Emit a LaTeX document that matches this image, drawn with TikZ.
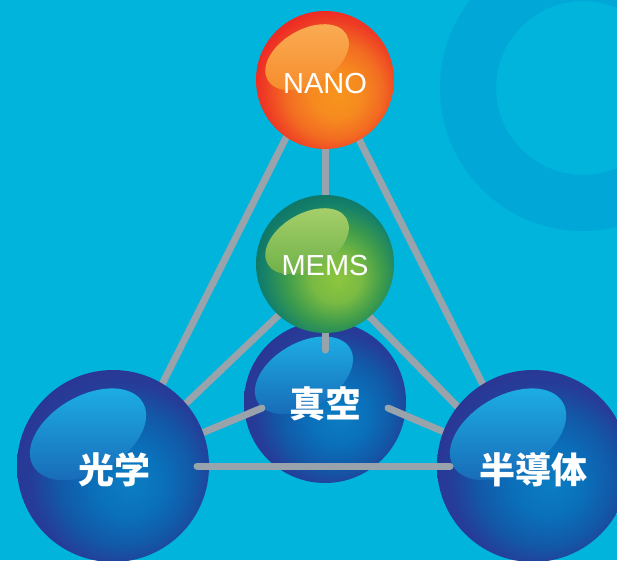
\documentclass[tikz,border=0pt]{standalone}
\usepackage{fontspec}
\setmainfont{Liberation Sans}
\newfontfamily\cjk{Noto Sans CJK JP}
\usetikzlibrary{calc}

\definecolor{bgc}{HTML}{00B4DC}
\definecolor{ringc}{HTML}{00A7D7}
\definecolor{linec}{HTML}{98A3AB}

\definecolor{nanoA}{HTML}{F7941D}
\definecolor{nanoB}{HTML}{F68A1F}
\definecolor{nanoC}{HTML}{F26B22}
\definecolor{nanoD}{HTML}{EE3A24}
\definecolor{nanoE}{HTML}{ED1C24}
\definecolor{nanoHT}{HTML}{FAAD55}
\definecolor{nanoHB}{HTML}{F68B2A}

\definecolor{memsA}{HTML}{8DC63F}
\definecolor{memsB}{HTML}{79BA43}
\definecolor{memsC}{HTML}{3E9C4B}
\definecolor{memsD}{HTML}{14806A}
\definecolor{memsE}{HTML}{0B6F62}
\definecolor{memsHT}{HTML}{A8D06C}
\definecolor{memsHB}{HTML}{6CB046}

\definecolor{bluA}{HTML}{0B7DC3}
\definecolor{bluB}{HTML}{0A70BA}
\definecolor{bluC}{HTML}{1259A8}
\definecolor{bluD}{HTML}{253D98}
\definecolor{bluE}{HTML}{2E3192}
\definecolor{bluHT}{HTML}{1DB0E6}
\definecolor{bluHB}{HTML}{1868B6}

\pgfdeclareradialshading{nanoshade}{\pgfpoint{5bp}{-6bp}}{color(0bp)=(nanoA); color(9bp)=(nanoB); color(17.5bp)=(nanoC); color(25bp)=(nanoD); color(31bp)=(nanoE); color(50bp)=(nanoE)}
\pgfdeclareradialshading{memsshade}{\pgfpoint{5bp}{-6bp}}{color(0bp)=(memsA); color(9bp)=(memsB); color(17.5bp)=(memsC); color(25bp)=(memsD); color(31bp)=(memsE); color(50bp)=(memsE)}
\pgfdeclareradialshading{blushade}{\pgfpoint{5bp}{-5bp}}{color(0bp)=(bluA); color(9bp)=(bluB); color(17.5bp)=(bluC); color(24bp)=(bluD); color(31bp)=(bluE); color(50bp)=(bluE)}

\newcommand\drawball[7]{%
  \node[circle, inner sep=0pt, outer sep=0pt, minimum size={2*#4pt}, shading=#5] (#1) at (#2,#3) {};
  \coordinate (#1hl) at ($(#1)+({-0.26*#4},{-0.33*#4})$);
  \shade[top color=#6, bottom color=#7, rotate around={30:(#1hl)}] (#1hl) ellipse ({0.66*#4pt} and {0.40*#4pt});
}

\begin{document}
\begin{tikzpicture}[x=1pt,y=-1pt,
  conn/.style={line width=7pt, draw=linec, line cap=round},
  latlbl/.style={text=white, inner sep=0pt, font=\fontsize{29}{29}\selectfont},
  cjklbl/.style={text=white, inner sep=0pt, font=\cjk\bfseries\fontsize{36}{36}\selectfont}]
\useasboundingbox (0,0) rectangle (617,560);
\clip (0,0) rectangle (617,560);
\fill[bgc] (0,0) rectangle (617,560);
\fill[ringc, even odd rule] (583,88) circle[radius=143pt] (583,88) circle[radius=87pt];

% anchor points of the connectors
\coordinate (nanoTop) at (322,66);
\coordinate (optN) at (121,466);
\coordinate (semN) at (524,466);
\coordinate (memsC) at (325,271);
\coordinate (optM) at (113,473);
\coordinate (semM) at (533,484);
\coordinate (vacL) at (262,408);
\coordinate (vacR) at (388,408);
\coordinate (vacTop) at (325,350);
\coordinate (optR) at (197,466);
\coordinate (semL) at (450,466);
\coordinate (optC) at (113,470);
\coordinate (semC) at (533,470);
\coordinate (nanoC) at (325,80);
\coordinate (memsV) at (325,264);

% connectors behind the spheres
\draw[conn] (nanoTop) -- (optN);
\draw[conn] (nanoTop) -- (semN);
\draw[conn] (nanoC) -- (memsV);
\draw[conn] (memsC) -- (optM);
\draw[conn] (memsC) -- (semM);

% NANO
\drawball{nano}{325}{80}{69}{nanoshade}{nanoHT}{nanoHB}
\node[latlbl] (nanoT) at (325,84) {NANO};

% vacuum sphere
\drawball{vac}{325}{402}{81}{blushade}{bluHT}{bluHB}
\node[cjklbl] (vacT) at (325,404) {真空};
\draw[conn] (memsV) -- (vacTop);

% MEMS
\drawball{mems}{325}{264}{69}{memsshade}{memsHT}{memsHB}
\node[latlbl] (memsT) at (325,266) {MEMS};

\draw[conn] (vacL) -- (optC);
\draw[conn] (vacR) -- (semC);

% optics and semiconductor
\drawball{opt}{113}{466}{96}{blushade}{bluHT}{bluHB}
\node[cjklbl] (optT) at (114,470) {光学};
\drawball{sem}{533}{466}{96}{blushade}{bluHT}{bluHB}
\node[cjklbl] (semT) at (533,470) {半導体};

\draw[conn] (optR) -- (semL);
\end{tikzpicture}
\end{document}
